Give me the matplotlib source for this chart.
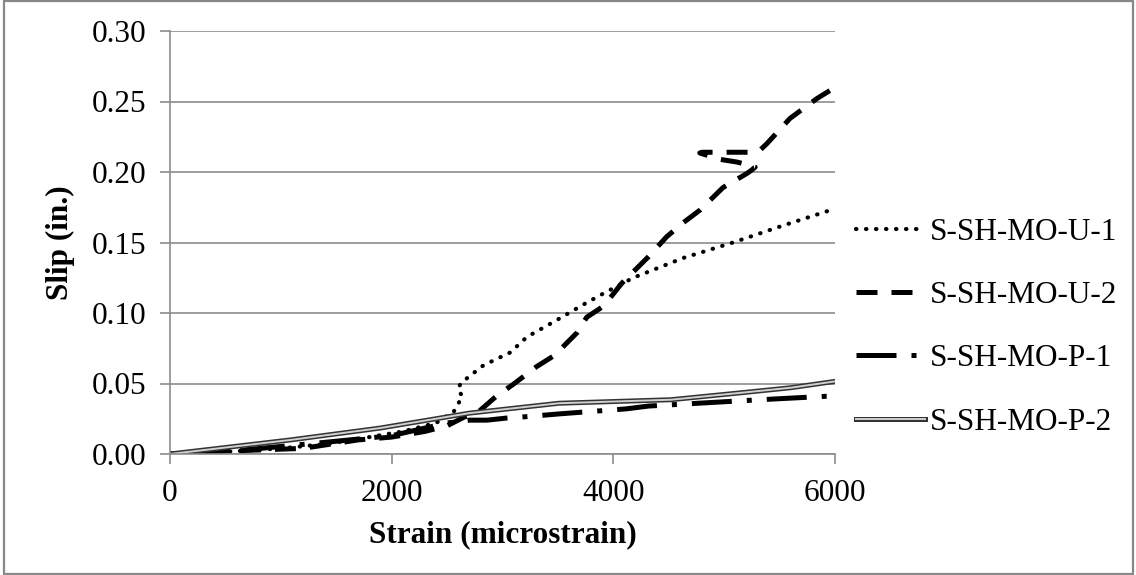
import matplotlib
matplotlib.use('Agg')
import matplotlib.pyplot as plt
import matplotlib.patheffects as pe
from matplotlib.patches import Rectangle

# Slip vs strain data
u1_strain = [0, 300, 600, 1000, 1400, 1800, 2100, 2400, 2560, 2610, 2640, 2600, 2620, 2700,
             2830, 3070, 3220, 3490, 3730, 3914, 4180, 4630, 5080, 5530, 6000]
u1_slip = [0, 0.001, 0.002, 0.004, 0.007, 0.012, 0.016, 0.022, 0.030, 0.037, 0.041, 0.045, 0.050, 0.055,
           0.063, 0.072, 0.083, 0.095, 0.106, 0.114, 0.125, 0.139, 0.150, 0.162, 0.174]

u2_strain = [0, 500, 1200, 1700, 2000, 2300, 2500, 2650, 2784, 2945, 3107, 3308, 3470, 3672, 3760,
             3914, 4075, 4318, 4480, 4630, 4782, 4990, 5206, 5250, 5280, 5120, 4960, 4780, 4800,
             5270, 5330, 5384, 5594, 5835, 6000]
u2_slip = [0, 0.002, 0.004, 0.010, 0.012, 0.016, 0.020, 0.026, 0.030, 0.041, 0.050, 0.062, 0.070, 0.086, 0.097,
           0.105, 0.121, 0.140, 0.154, 0.164, 0.173, 0.189, 0.199, 0.2015, 0.2035, 0.207, 0.209, 0.2135, 0.214,
           0.214, 0.216, 0.220, 0.238, 0.252, 0.260]

p1_strain = [0, 686, 1493, 2000, 2501, 2703, 2860, 3038, 3220, 3520, 4115, 4318, 5326, 5911, 6000]
p1_slip = [0, 0.003, 0.009, 0.013, 0.022, 0.024, 0.024, 0.0255, 0.0265, 0.0285, 0.032, 0.034, 0.0385, 0.0409, 0.041]

p2_strain = [0, 1089, 1897, 2703, 3510, 4520, 5124, 5600, 6000]
p2_slip = [0, 0.010, 0.0184, 0.029, 0.036, 0.0385, 0.0432, 0.047, 0.0515]

labels = ['S-SH-MO-U-1', 'S-SH-MO-U-2', 'S-SH-MO-P-1', 'S-SH-MO-P-2']

plt.rcParams['font.family'] = ['Liberation Serif', 'DejaVu Serif']

fig = plt.figure(figsize=(11.36, 5.75), dpi=100)
ax = fig.add_axes([170 / 1136, 121 / 575, 665 / 1136, 423 / 575])

# figure frame
fig.patches.append(Rectangle((0.0035, 0.002), 0.994, 0.996, transform=fig.transFigure,
                             fill=False, edgecolor='#888888', linewidth=1.6))

ax.plot(u1_strain, u1_slip, color='black', linewidth=3, linestyle=(0, (0.1, 2.3)),
        dash_capstyle='round', label=labels[0])
ax.plot(u2_strain, u2_slip, color='black', linewidth=3.6, linestyle=(0, (4.2, 2.8)), label=labels[1])
ax.plot(p1_strain, p1_slip, color='black', linewidth=3.6, linestyle=(0, (8, 3, 1, 3)), label=labels[2])
ax.plot(p2_strain, p2_slip, color='#d0d0d0', linewidth=1.4, label=labels[3],
        path_effects=[pe.Stroke(linewidth=3.6, foreground='#333333'), pe.Normal()])

ax.set_xlim(0, 6000)
ax.set_ylim(0, 0.30)
ax.set_xticks([0, 2000, 4000, 6000])
ax.set_yticks([0, 0.05, 0.10, 0.15, 0.20, 0.25, 0.30])
ax.yaxis.set_major_formatter(plt.FormatStrFormatter('%.2f'))
ax.grid(axis='y', color='#8c8c8c', linewidth=1.2)
ax.set_axisbelow(True)

for s in ['top', 'right']:
    ax.spines[s].set_visible(False)
for s in ['left', 'bottom']:
    ax.spines[s].set_color('#8c8c8c')
    ax.spines[s].set_linewidth(1.2)
ax.tick_params(axis='both', colors='#8c8c8c', labelcolor='black', labelsize=22.5,
               length=7, width=1.2, direction='out')
ax.tick_params(axis='x', pad=11)
ax.tick_params(axis='y', pad=10)

ax.set_xlabel('Strain (microstrain)', fontsize=22.5, fontweight='bold', labelpad=9)
ax.set_ylabel('Slip (in.)', fontsize=22.5, fontweight='bold', labelpad=12)

ax.legend(loc='center left', bbox_to_anchor=(0.99, 0.30), frameon=False, fontsize=22.5,
          handlelength=2.2, handletextpad=0.15, labelspacing=1.1)

plt.savefig('out.png', dpi=100)
